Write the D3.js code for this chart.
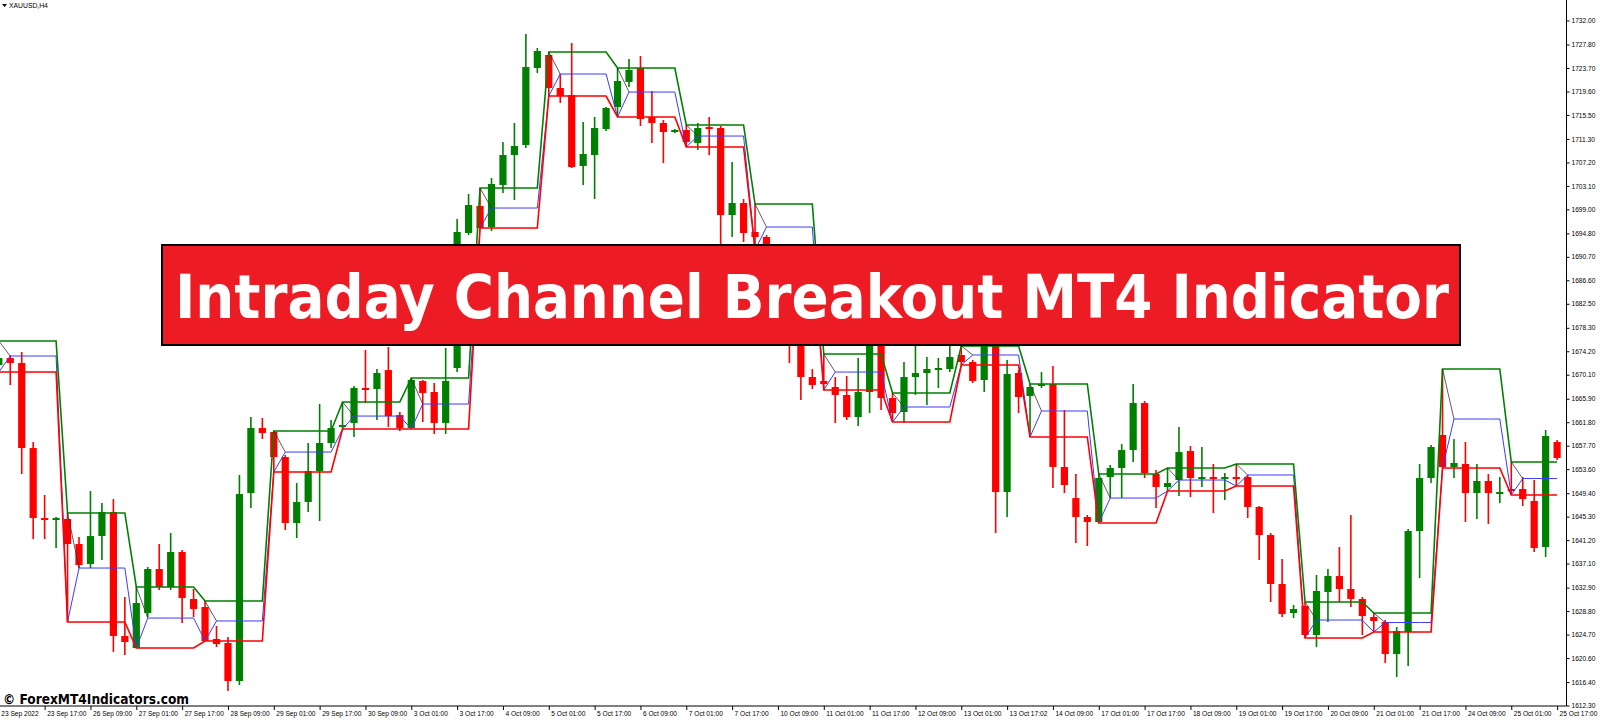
<!DOCTYPE html>
<html>
<head>
<meta charset="utf-8">
<script src="https://cdn.jsdelivr.net/npm/d3@7"></script>
<style>
  html, body { margin: 0; padding: 0; background: #fff; }
  svg { display: block; }
</style>
</head>
<body>
<svg id="chart" width="1600" height="720"></svg>
<script>
// ---------- DATA (XAUUSD, H4) ----------
const symbolLabel = "XAUUSD,H4";
const titleText = "Intraday Channel Breakout MT4 Indicator";
const copyrightText = "\u00A9 ForexMT4Indicators.com";

const open = [
1671.80,1673.02,1672.15,1657.29,1645.06,1644.71,
1644.89,1640.52,1637.02,1641.91,1646.11,1624.44,
1622.34,1628.46,1636.15,1633.01,1639.12,1630.91,
1629.51,1623.92,1623.22,1616.58,1649.43,1660.79,
1660.09,1655.72,1644.19,1647.86,1653.28,1658.17,
1660.97,1661.67,1667.78,1667.61,1670.92,1663.06,
1660.79,1669.01,1667.08,1661.67,1671.27,1694.87,
1699.58,1695.92,1703.26,1708.50,1710.25,1723.70,
1725.97,1720.20,1718.98,1706.57,1708.50,1713.04,
1716.89,1721.25,1723.70,1715.14,1714.09,1712.51,
1712.86,1710.60,1713.21,1713.21,1698.01,1700.11,
1695.04,1694.17,1687.53,1683.16,1676.51,1669.70,
1669.01,1667.96,1666.56,1662.71,1667.08,1676.17,
1666.03,1663.58,1669.70,1670.40,1670.92,1671.10,
1673.55,1672.32,1669.18,1676.17,1649.60,1670.40,
1666.38,1668.13,1668.48,1653.98,1648.55,1645.24,
1644.36,1652.23,1653.80,1656.94,1665.16,1652.75,
1650.48,1651.70,1656.77,1651.88,1652.05,1651.88,
1652.05,1652.23,1646.99,1642.09,1633.53,1628.46,
1629.68,1624.62,1632.13,1634.92,1632.66,1630.91,
1627.76,1626.89,1621.29,1625.14,1642.79,1652.05,
1659.57,1653.98,1654.50,1649.43,1651.53,1649.25,
1650.13,1650.13,1648.04,1640.00,1658.34];

const high = [
1676.00,1673.55,1674.07,1658.34,1649.08,1645.24,
1645.94,1641.74,1649.78,1647.69,1648.38,1631.26,
1633.01,1636.50,1640.52,1642.44,1639.47,1632.66,
1630.56,1626.19,1624.27,1652.58,1662.71,1662.53,
1660.27,1656.07,1651.18,1658.17,1664.98,1662.19,
1665.33,1668.13,1674.42,1671.10,1674.95,1663.58,
1669.52,1669.18,1668.66,1674.77,1697.31,1701.68,
1702.73,1704.47,1710.77,1714.09,1729.64,1727.19,
1726.49,1722.65,1728.07,1714.26,1715.14,1716.89,
1723.70,1725.27,1725.79,1719.68,1714.61,1713.04,
1713.74,1714.09,1715.14,1713.56,1707.27,1700.81,
1699.93,1694.52,1689.28,1684.90,1677.56,1671.10,
1673.72,1669.70,1669.87,1673.02,1677.04,1677.04,
1666.91,1672.32,1675.30,1673.20,1673.02,1675.30,
1675.12,1672.67,1677.91,1677.04,1672.67,1670.92,
1668.48,1670.57,1671.62,1663.93,1652.75,1645.59,
1652.75,1654.33,1657.99,1668.48,1665.51,1653.45,
1653.80,1660.97,1657.64,1657.47,1654.50,1652.93,
1654.50,1652.58,1647.16,1642.44,1637.90,1629.86,
1630.38,1635.10,1636.15,1640.00,1645.59,1631.26,
1628.46,1627.24,1626.02,1643.14,1654.50,1657.82,
1671.10,1658.87,1658.34,1654.50,1652.75,1652.23,
1654.85,1652.23,1651.70,1660.44,1658.69];

const low = [
1670.57,1668.31,1652.75,1641.39,1641.39,1639.82,
1626.89,1636.32,1636.32,1637.72,1621.64,1621.12,
1622.34,1627.76,1632.48,1632.48,1626.72,1627.76,
1623.57,1622.52,1614.83,1615.88,1646.81,1658.87,
1653.10,1642.96,1641.56,1646.11,1644.54,1657.29,
1660.62,1659.22,1665.16,1662.19,1660.97,1660.27,
1660.62,1661.84,1659.74,1659.74,1670.57,1694.52,
1695.74,1695.22,1701.86,1700.63,1709.72,1722.83,
1718.80,1717.59,1706.22,1703.26,1700.81,1712.69,
1715.14,1720.38,1713.56,1710.60,1707.10,1712.34,
1709.90,1709.37,1708.50,1691.89,1694.17,1693.29,
1691.89,1685.78,1681.41,1672.15,1665.68,1667.61,
1667.43,1661.67,1662.19,1661.14,1663.41,1663.93,
1661.84,1661.67,1666.56,1664.81,1667.78,1670.57,
1671.80,1668.66,1667.08,1642.44,1645.24,1663.41,
1659.22,1667.78,1650.30,1649.43,1640.70,1640.17,
1644.19,1648.55,1648.55,1654.85,1652.05,1646.81,
1649.78,1648.90,1648.73,1650.48,1645.94,1648.21,
1650.65,1645.06,1637.72,1630.38,1627.76,1627.58,
1624.09,1622.52,1626.89,1630.38,1629.51,1624.62,
1625.14,1619.73,1617.28,1619.20,1634.57,1651.18,
1653.80,1652.05,1644.36,1644.89,1644.01,1647.69,
1649.08,1647.16,1639.12,1638.25,1655.20];

const close = [
1673.02,1672.15,1657.29,1645.06,1644.71,1644.89,
1640.52,1636.85,1641.91,1646.11,1624.44,1623.39,
1630.21,1636.15,1633.01,1639.12,1631.08,1629.16,
1623.57,1623.04,1616.58,1649.25,1660.79,1659.92,
1655.72,1644.19,1647.86,1653.28,1658.17,1660.79,
1661.32,1667.78,1667.43,1670.40,1662.88,1660.79,
1669.18,1666.91,1661.67,1669.01,1695.04,1699.76,
1695.74,1703.43,1708.50,1710.07,1723.88,1726.67,
1720.20,1718.80,1706.40,1708.67,1713.21,1716.71,
1721.43,1723.35,1714.79,1714.09,1712.51,1712.69,
1710.77,1713.21,1713.04,1698.01,1700.11,1694.87,
1694.17,1687.53,1683.16,1676.51,1669.70,1668.31,
1668.48,1666.56,1662.71,1667.08,1676.17,1666.03,
1663.41,1669.70,1670.40,1671.10,1671.10,1673.20,
1672.32,1669.01,1676.17,1649.60,1670.22,1666.21,
1667.96,1668.31,1653.98,1650.83,1645.24,1644.36,
1652.05,1653.80,1656.94,1665.16,1652.93,1650.48,
1651.18,1656.59,1652.05,1652.05,1651.88,1652.05,
1651.88,1646.99,1642.09,1633.53,1628.28,1629.16,
1624.62,1632.31,1634.92,1632.66,1630.91,1627.93,
1627.07,1621.29,1625.32,1642.79,1652.05,1657.47,
1653.98,1654.68,1649.43,1651.53,1649.43,1649.43,
1649.78,1648.38,1639.82,1659.39,1655.54];

// Intraday channel per trading day (6 H4 bars per day)
const barsPerDay = 6;
const dayUpper = [1676.00,1645.94,1633.01,1630.56,1660.27,1665.33,1669.52,1702.73,1726.49,1723.70,1713.74,1699.93,1673.72,1666.91,1675.12,1668.48,1652.75,1653.80,1654.50,1630.38,1628.46,1671.10,1654.85];
const dayLower = [1670.57,1626.89,1622.34,1623.57,1653.10,1660.62,1660.62,1695.74,1718.80,1715.14,1709.90,1691.89,1667.43,1661.84,1671.80,1659.22,1644.19,1649.78,1650.65,1624.09,1625.14,1653.80,1649.08];
const dayMid   = [1673.37,1636.32,1627.58,1627.07,1656.59,1662.88,1664.98,1699.23,1722.65,1719.50,1711.81,1695.91,1670.57,1664.46,1673.55,1663.76,1648.55,1651.70,1652.58,1627.24,1626.80,1662.36,1651.96];

const priceTicks = [1732.00,1727.80,1723.70,1719.60,1715.50,1711.30,1707.20,1703.10,1699.00,1694.80,1690.70,1686.60,1682.50,1678.30,1674.20,1670.10,1665.90,1661.80,1657.70,1653.60,1649.40,1645.30,1641.20,1637.10,1632.90,1628.80,1624.70,1620.60,1616.40,1612.30];

const timeLabels = ["23 Sep 2022","23 Sep 17:00","26 Sep 09:00","27 Sep 01:00","27 Sep 17:00","28 Sep 09:00","29 Sep 01:00","29 Sep 17:00","30 Sep 09:00","3 Oct 01:00","3 Oct 17:00","4 Oct 09:00","5 Oct 01:00","5 Oct 17:00","6 Oct 09:00","7 Oct 01:00","7 Oct 17:00","10 Oct 09:00","11 Oct 01:00","11 Oct 17:00","12 Oct 09:00","13 Oct 01:00","13 Oct 17:02","14 Oct 09:00","17 Oct 01:00","17 Oct 17:00","18 Oct 09:00","19 Oct 01:00","19 Oct 17:00","20 Oct 09:00","21 Oct 01:00","21 Oct 17:00","24 Oct 09:00","25 Oct 01:00","25 Oct 17:00"];
const barsPerLabel = 4;

// ---------- LAYOUT ----------
const W = 1600, H = 720;
const plotRight = 1566.5, plotBottom = 706;
const svg = d3.select("#chart");
svg.append("rect").attr("width", W).attr("height", H).attr("fill", "#fff");

const n = open.length;
const x = d3.scaleLinear().domain([0, n - 1]).range([-1.2, 1557.1]);
const y = d3.scaleLinear().domain([1612.3, 1732.0]).range([705.5, 20.5]);

const UP = "#008000", DOWN = "#ff0000";
const bars = d3.range(n).map(i => ({i, o: open[i], h: high[i], l: low[i], c: close[i]}));

const plot = svg.append("g");

// candles
const cg = plot.append("g");
cg.selectAll("line.wick").data(bars).join("line")
  .attr("class", "wick")
  .attr("x1", d => x(d.i)).attr("x2", d => x(d.i))
  .attr("y1", d => y(d.h)).attr("y2", d => y(d.l))
  .attr("stroke", d => d.c >= d.o ? UP : DOWN)
  .attr("stroke-width", 1.6);
cg.selectAll("rect.body").data(bars).join("rect")
  .attr("class", "body")
  .attr("x", d => x(d.i) - 3.6)
  .attr("width", 7.2)
  .attr("y", d => Math.min(y(d.o), y(d.c)) - (Math.abs(y(d.o) - y(d.c)) < 2 ? 1 : 0))
  .attr("height", d => Math.max(2, Math.abs(y(d.o) - y(d.c))))
  .attr("fill", d => d.c >= d.o ? UP : DOWN);

// channel lines
const dayOf = i => Math.floor(i / barsPerDay);
const line = d3.line().x(d => x(d[0])).y(d => y(d[1]));
const upperPts = bars.map(d => [d.i, dayUpper[dayOf(d.i)]]);
const lowerPts = bars.map(d => [d.i, dayLower[dayOf(d.i)]]);
const midPts = bars.map(d => [d.i, d.i % barsPerDay === 0 ? dayLower[dayOf(d.i)] : dayMid[dayOf(d.i)]]);

plot.append("path").attr("d", line(midPts)).attr("fill", "none")
  .attr("stroke", "#3a3aff").attr("stroke-width", 1);
plot.append("path").attr("d", line(lowerPts)).attr("fill", "none")
  .attr("stroke", "#ff0000").attr("stroke-width", 1.6);
plot.append("path").attr("d", line(upperPts)).attr("fill", "none")
  .attr("stroke", "#008000").attr("stroke-width", 1.6);

// short connector from the day's upper level to its middle level
const days = d3.range(dayUpper.length).filter(k => k * barsPerDay + 1 < n);
plot.selectAll("line.conn").data(days).join("line")
  .attr("class", "conn")
  .attr("x1", k => x(k * barsPerDay)).attr("y1", k => y(dayUpper[k]))
  .attr("x2", k => x(k * barsPerDay + 1)).attr("y2", k => y(dayMid[k]))
  .attr("stroke", "#333").attr("stroke-width", 0.8);

// ---------- AXES ----------
const axisFont = "'Liberation Sans', Arial, sans-serif";
const yAxis = d3.axisRight(y).tickValues(priceTicks).tickFormat(d3.format(".2f")).tickSize(3).tickPadding(2);
const gy = svg.append("g").attr("transform", `translate(${plotRight},0)`).call(yAxis);
gy.select(".domain").attr("d", `M0,0V${plotBottom}`).attr("stroke", "#000");
gy.selectAll(".tick line").attr("stroke", "#000");
gy.selectAll(".tick text").attr("font-family", axisFont).attr("font-size", 6.6).attr("fill", "#000");

const labelBars = timeLabels.map((t, k) => k * barsPerLabel);
const xAxis = d3.axisBottom(x).tickValues(labelBars).tickFormat((d, k) => timeLabels[k]).tickSize(4).tickPadding(1);
const gx = svg.append("g").attr("transform", `translate(0,${plotBottom})`).call(xAxis);
gx.select(".domain").attr("d", `M0,0H${plotRight}`).attr("stroke", "#000");
gx.selectAll(".tick line").attr("stroke", "#000");
gx.selectAll(".tick text").attr("font-family", axisFont).attr("font-size", 6.6)
  .attr("fill", "#000").attr("text-anchor", "start").attr("dx", 2);

// symbol label
svg.append("path").attr("d", "M2,4 L7,4 L4.5,7 Z").attr("fill", "#000");
svg.append("text").attr("x", 9).attr("y", 8).text(symbolLabel)
  .attr("font-family", axisFont).attr("font-size", 6.8).attr("fill", "#000");

// copyright
svg.append("text").attr("x", 3).attr("y", 704).text(copyrightText)
  .attr("font-family", "'DejaVu Sans', Verdana, sans-serif").attr("font-weight", "bold")
  .attr("font-size", 14).attr("fill", "#000")
  .attr("textLength", 186).attr("lengthAdjust", "spacingAndGlyphs");

// banner
svg.append("rect").attr("x", 162).attr("y", 245).attr("width", 1298).attr("height", 100)
  .attr("fill", "#ed1c24").attr("stroke", "#000").attr("stroke-width", 2);
svg.append("text").attr("x", 175).attr("y", 318).text(titleText)
  .attr("font-family", "'DejaVu Sans', Verdana, sans-serif").attr("font-weight", "bold")
  .attr("font-size", 60).attr("fill", "#fff")
  .attr("textLength", 1274).attr("lengthAdjust", "spacingAndGlyphs");
</script>
</body>
</html>
